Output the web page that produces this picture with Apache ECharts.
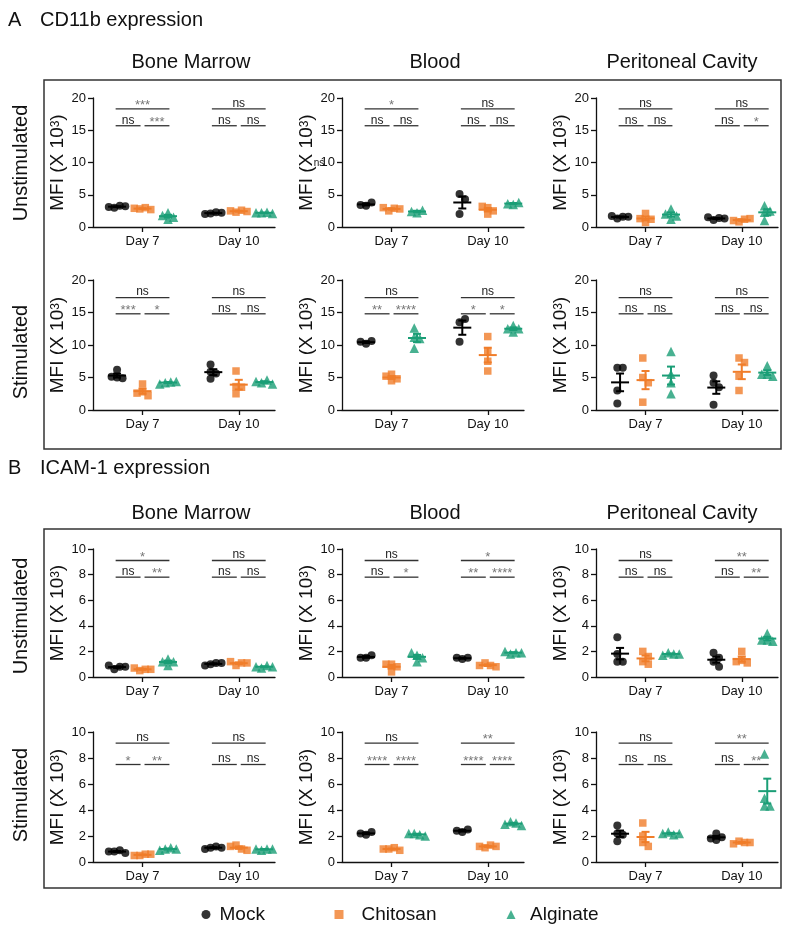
<!DOCTYPE html>
<html>
<head>
<meta charset="utf-8">
<script src="https://cdn.jsdelivr.net/npm/echarts@6/dist/echarts.min.js"></script>
<style>
  html, body { margin: 0; padding: 0; background: #fff; }
  #main { width: 800px; height: 933px; }
</style>
</head>
<body>
<div id="main"></div>
<script>
var FONT = '"Liberation Sans", Arial, sans-serif';

var days = ['Day 7', 'Day 10'];
var groups = ['Mock', 'Chitosan', 'Alginate'];
var tissues = ['Bone Marrow', 'Blood', 'Peritoneal Cavity'];
var colors = ['#000000', '#f07d2a', '#1a9e76'];
var symbols = ['circle', 'rect', 'triangle'];

// order in every panel: Mock d7, Chitosan d7, Alginate d7, Mock d10, Chitosan d10, Alginate d10
var cd11bUnstimBM = [[3.0, 3.3, 3.1, 3.2], [2.8, 3.0, 2.9, 2.7], [1.2, 1.5, 1.8, 2.2], [2.1, 2.3, 2.0, 2.2], [2.3, 2.6, 2.5, 2.4], [2.2, 2.3, 2.2, 2.1]];
var cd11bUnstimBlood = [[3.3, 3.8, 3.4], [2.5, 2.9, 3.0, 2.8], [2.2, 2.6, 2.4], [5.1, 4.3, 2.0], [2.0, 2.5, 3.0, 3.2], [3.5, 3.8, 3.6]];
var cd11bUnstimPC = [[1.3, 1.6, 1.7, 1.6], [0.7, 1.2, 1.3, 2.1], [1.2, 1.7, 2.0, 2.8], [1.1, 1.4, 1.5, 1.3], [0.8, 1.2, 1.0, 1.3], [1.0, 2.3, 2.5, 3.3]];
var cd11bStimBM = [[6.2, 5.0, 4.9, 5.1], [4.0, 2.8, 2.2, 2.6], [4.2, 4.3, 4.0, 4.4], [7.0, 4.8, 5.9, 5.6], [6.0, 3.6, 2.5, 3.5], [4.2, 4.6, 4.4, 4.0]];
var cd11bStimBlood = [[10.2, 10.6, 10.5], [4.5, 4.8, 5.2, 5.5], [12.6, 11.2, 11.0, 9.5], [13.5, 14.0, 10.5], [11.3, 9.0, 7.5, 6.0], [12.0, 12.5, 13.0, 12.5]];
var cd11bStimPC = [[6.5, 6.5, 3.0, 1.0], [8.0, 5.0, 4.2, 1.2], [9.0, 5.5, 4.2, 2.5], [5.3, 4.2, 3.5, 0.8], [8.0, 7.3, 5.2, 3.0], [6.8, 5.5, 5.2, 5.5]];

var icamUnstimBM = [[0.6, 0.8, 0.9, 0.8], [0.5, 0.6, 0.7, 0.6], [0.9, 1.4, 1.2, 1.2], [1.0, 1.1, 0.9, 1.1], [0.9, 1.1, 1.2, 1.1], [0.7, 0.9, 0.8, 0.8]];
var icamUnstimBlood = [[1.5, 1.7, 1.5], [0.4, 0.8, 1.0, 1.0], [1.2, 1.5, 1.7, 1.9], [1.4, 1.5, 1.5], [1.1, 0.9, 0.9, 0.8], [1.8, 1.9, 2.0, 1.9]];
var icamUnstimPC = [[3.1, 1.8, 1.2, 1.2], [2.0, 1.6, 1.2, 1.0], [1.9, 1.8, 1.7, 1.8], [1.9, 1.5, 1.2, 0.8], [2.0, 1.3, 1.1, 1.2], [3.4, 2.9, 2.8, 2.9]];
var icamStimBM = [[0.8, 0.9, 0.8, 0.7], [0.5, 0.6, 0.5, 0.6], [1.0, 1.1, 0.9, 1.0], [1.1, 1.2, 1.0, 1.1], [1.3, 1.0, 1.2, 0.9], [0.9, 1.0, 1.0, 1.0]];
var icamStimBlood = [[2.1, 2.3, 2.2], [1.0, 1.1, 1.0, 0.9], [2.2, 2.1, 2.2, 2.0], [2.3, 2.5, 2.4], [1.1, 1.3, 1.2, 1.2], [3.1, 3.0, 2.9, 2.8]];
var icamStimPC = [[2.8, 2.2, 1.6, 2.1], [3.0, 2.0, 1.5, 1.2], [2.3, 2.1, 2.2, 2.2], [2.2, 1.9, 1.8, 1.7], [1.6, 1.5, 1.4, 1.5], [8.3, 4.9, 4.3, 4.3]];

// significance: d7 all, d7 mock-chitosan, d7 chitosan-alginate, d10 all, d10 mock-chitosan, d10 chitosan-alginate
var sigCd11bUnstimBM = ['***', 'ns', '***', 'ns', 'ns', 'ns'];
var sigCd11bUnstimBlood = ['*', 'ns', 'ns', 'ns', 'ns', 'ns'];
var sigCd11bUnstimPC = ['ns', 'ns', 'ns', 'ns', 'ns', '*'];
var sigCd11bStimBM = ['ns', '***', '*', 'ns', 'ns', 'ns'];
var sigCd11bStimBlood = ['ns', '**', '****', 'ns', '*', '*'];
var sigCd11bStimPC = ['ns', 'ns', 'ns', 'ns', 'ns', 'ns'];
var sigIcamUnstimBM = ['*', 'ns', '**', 'ns', 'ns', 'ns'];
var sigIcamUnstimBlood = ['ns', 'ns', '*', '*', '**', '****'];
var sigIcamUnstimPC = ['ns', 'ns', 'ns', '**', 'ns', '**'];
var sigIcamStimBM = ['ns', '*', '**', 'ns', 'ns', 'ns'];
var sigIcamStimBlood = ['ns', '****', '****', '**', '****', '****'];
var sigIcamStimPC = ['ns', 'ns', 'ns', '**', 'ns', '**'];

var panels = [
  { data: cd11bUnstimBM, sig: sigCd11bUnstimBM, row: 0, col: 0 },
  { data: cd11bUnstimBlood, sig: sigCd11bUnstimBlood, row: 0, col: 1 },
  { data: cd11bUnstimPC, sig: sigCd11bUnstimPC, row: 0, col: 2 },
  { data: cd11bStimBM, sig: sigCd11bStimBM, row: 1, col: 0 },
  { data: cd11bStimBlood, sig: sigCd11bStimBlood, row: 1, col: 1 },
  { data: cd11bStimPC, sig: sigCd11bStimPC, row: 1, col: 2 },
  { data: icamUnstimBM, sig: sigIcamUnstimBM, row: 2, col: 0 },
  { data: icamUnstimBlood, sig: sigIcamUnstimBlood, row: 2, col: 1 },
  { data: icamUnstimPC, sig: sigIcamUnstimPC, row: 2, col: 2 },
  { data: icamStimBM, sig: sigIcamStimBM, row: 3, col: 0 },
  { data: icamStimBlood, sig: sigIcamStimBlood, row: 3, col: 1 },
  { data: icamStimPC, sig: sigIcamStimPC, row: 3, col: 2 }
];

// layout
var rows = [
  { top: 98, height: 129, max: 20, interval: 5, levels: [18.3, 15.7] },
  { top: 280, height: 130, max: 20, interval: 5, levels: [17.3, 14.8] },
  { top: 549, height: 128, max: 10, interval: 2, levels: [9.1, 7.8] },
  { top: 732, height: 130, max: 10, interval: 2, levels: [9.15, 7.5] }
];
var colLeft = [93, 342, 596];
var GRID_W = 182, XMIN = 0.25, XMAX = 6.68;
var PX = GRID_W / (XMAX - XMIN);
var dayX = [2, 5.4];
var colX = [1.1, 2, 2.9, 4.5, 5.4, 6.3];
var SPREAD = 5.5;

function swarm(vals, pxY) {
  var placed = [], offs = [];
  vals.forEach(function (v) {
    var y = v * pxY;
    for (var k = 0; k < 12; k++) {
      var o = k === 0 ? 0 : (k % 2 ? Math.ceil(k / 2) : -k / 2);
      var ok = placed.every(function (p) {
        var dx = (p.o - o) * SPREAD, dy = p.y - y;
        return dx * dx + dy * dy >= SPREAD * SPREAD * 0.95;
      });
      if (ok) { placed.push({ o: o, y: y }); offs.push(o); break; }
    }
  });
  var mn = Math.min.apply(null, offs), mx = Math.max.apply(null, offs);
  return offs.map(function (o) { return (o - (mn + mx) / 2) * SPREAD / PX; });
}

function meanSem(a) {
  var m = a.reduce(function (s, v) { return s + v; }, 0) / a.length;
  var sd = Math.sqrt(a.reduce(function (s, v) { return s + (v - m) * (v - m); }, 0) / (a.length - 1));
  return [m, sd / Math.sqrt(a.length)];
}

function renderMean(params, api) {
  var x = api.value(0), m = api.value(1), s = api.value(2);
  var c = api.coord([x, m]), hi = api.coord([x, m + s]), lo = api.coord([x, m - s]);
  var st = { stroke: api.visual('color'), lineWidth: 2 };
  return {
    type: 'group', children: [
      { type: 'line', shape: { x1: c[0] - 9, y1: c[1], x2: c[0] + 9, y2: c[1] }, style: st },
      { type: 'line', shape: { x1: c[0], y1: hi[1], x2: c[0], y2: lo[1] }, style: st },
      { type: 'line', shape: { x1: c[0] - 4, y1: hi[1], x2: c[0] + 4, y2: hi[1] }, style: st },
      { type: 'line', shape: { x1: c[0] - 4, y1: lo[1], x2: c[0] + 4, y2: lo[1] }, style: st }
    ]
  };
}

function makeBracketRenderer(labels) {
  return function (params, api) {
    var a = api.coord([api.value(0), api.value(2)]);
    var b = api.coord([api.value(1), api.value(2)]);
    var lab = labels[params.dataIndex];
    var star = lab.charAt(0) === '*';
    return {
      type: 'group', children: [
        { type: 'line', shape: { x1: a[0], y1: a[1], x2: b[0], y2: b[1] }, style: { stroke: '#333', lineWidth: 1.3 } },
        {
          type: 'text', x: (a[0] + b[0]) / 2, y: star ? a[1] + 3 : a[1] + 0.5,
          style: {
            text: lab, align: 'center', verticalAlign: 'bottom',
            fontFamily: FONT, fontSize: star ? 13 : 12, fill: star ? '#777' : '#222'
          }
        }
      ]
    };
  };
}

var grids = [], xAxes = [], yAxes = [], series = [];

panels.forEach(function (p, i) {
  var r = rows[p.row];
  grids.push({ left: colLeft[p.col], top: r.top, width: GRID_W, height: r.height });
  xAxes.push({
    type: 'value', gridIndex: i, min: XMIN, max: XMAX,
    splitLine: { show: false },
    axisLine: { show: true, onZero: false, lineStyle: { color: '#111', width: 1.3 } },
    axisTick: { show: true, customValues: dayX, length: 5, lineStyle: { color: '#111', width: 1.3 } },
    axisLabel: {
      customValues: dayX, margin: 8, fontFamily: FONT, fontSize: 13, color: '#111',
      formatter: function (v) { return v < 3 ? days[0] : days[1]; }
    }
  });
  yAxes.push({
    type: 'value', gridIndex: i, min: 0, max: r.max, interval: r.interval,
    splitLine: { show: false },
    axisLine: { show: true, lineStyle: { color: '#111', width: 1.3 } },
    axisTick: { show: true, length: 5, lineStyle: { color: '#111', width: 1.3 } },
    axisLabel: { margin: 7, fontFamily: FONT, fontSize: 13, color: '#111' },
    name: '{n|MFI (X 10}{s|3}{n|)}', nameLocation: 'middle', nameGap: 26,
    nameTextStyle: {
      rich: {
        n: { fontFamily: FONT, fontSize: 19, color: '#111' },
        s: { fontFamily: FONT, fontSize: 12, color: '#111', verticalAlign: 'bottom', padding: [0, 0, 5, 0] }
      }
    }
  });
  var pxY = r.height / r.max;
  groups.forEach(function (g, gi) {
    var pts = [];
    [gi, gi + 3].forEach(function (k) {
      var offs = swarm(p.data[k], pxY);
      p.data[k].forEach(function (v, j) { pts.push([colX[k] + offs[j], v]); });
    });
    series.push({
      type: 'scatter', name: g, xAxisIndex: i, yAxisIndex: i,
      symbol: symbols[gi], symbolSize: [8, 7.5, 9.5][gi],
      itemStyle: { color: colors[gi] }, z: 3, data: pts
    });
  });
  groups.forEach(function (g, gi) {
    var md = [gi, gi + 3].map(function (k) {
      var ms = meanSem(p.data[k]);
      return [colX[k], ms[0], ms[1]];
    });
    series.push({
      type: 'custom', name: g, xAxisIndex: i, yAxisIndex: i, clip: false, z: 4,
      itemStyle: { color: colors[gi] }, renderItem: renderMean, data: md
    });
  });
  var br = [];
  dayX.forEach(function (c) {
    br.push([c - 0.95, c + 0.95, r.levels[0]]);
    br.push([c - 0.95, c - 0.07, r.levels[1]]);
    br.push([c + 0.07, c + 0.95, r.levels[1]]);
  });
  series.push({
    type: 'custom', xAxisIndex: i, yAxisIndex: i, clip: false, z: 5, silent: true,
    renderItem: makeBracketRenderer(p.sig), data: br
  });
});

function txt(x, y, s, size, opts) {
  var o = {
    type: 'text', x: x, y: y,
    style: { text: s, fontFamily: FONT, fontSize: size, fill: '#111', align: 'center', verticalAlign: 'middle' }
  };
  if (opts) {
    if (opts.align) o.style.align = opts.align;
    if (opts.rotate) o.rotation = Math.PI / 2;
  }
  return o;
}

var titleY = [62, 513];
var graphics = [
  txt(8, 20, 'A', 20, { align: 'left' }),
  txt(40, 20, 'CD11b expression', 20, { align: 'left' }),
  txt(8, 468, 'B', 20, { align: 'left' }),
  txt(40, 468, 'ICAM-1 expression', 20, { align: 'left' }),
  { type: 'rect', shape: { x: 44, y: 80, width: 737, height: 369 }, style: { fill: 'none', stroke: '#333', lineWidth: 1.5 } },
  { type: 'rect', shape: { x: 44, y: 529, width: 737, height: 359 }, style: { fill: 'none', stroke: '#333', lineWidth: 1.5 } },
  txt(21, 163, 'Unstimulated', 20, { rotate: true }),
  txt(21, 352, 'Stimulated', 20, { rotate: true }),
  txt(21, 616, 'Unstimulated', 20, { rotate: true }),
  txt(21, 795, 'Stimulated', 20, { rotate: true }),
  txt(319, 163, 'ns', 10)
];
var titleX = [191, 435, 682];
titleY.forEach(function (y) {
  tissues.forEach(function (t, k) { graphics.push(txt(titleX[k], y, t, 20)); });
});

var legendLeft = [196.5, 329.5, 501.5];
var legendPad = [4, 13, 9.5];
var legends = groups.map(function (g, gi) {
  return {
    data: [{ name: g, icon: symbols[gi] }], left: legendLeft[gi], top: 900,
    itemWidth: 9, itemHeight: 9, selectedMode: false,
    textStyle: { fontFamily: FONT, fontSize: 19, color: '#111', padding: [0, 0, 0, legendPad[gi]] }
  };
});

var chart = echarts.init(document.getElementById('main'));
chart.setOption({
  backgroundColor: '#fff',
  animation: false,
  legend: legends,
  grid: grids,
  xAxis: xAxes,
  yAxis: yAxes,
  series: series,
  graphic: graphics
});
</script>
</body>
</html>
